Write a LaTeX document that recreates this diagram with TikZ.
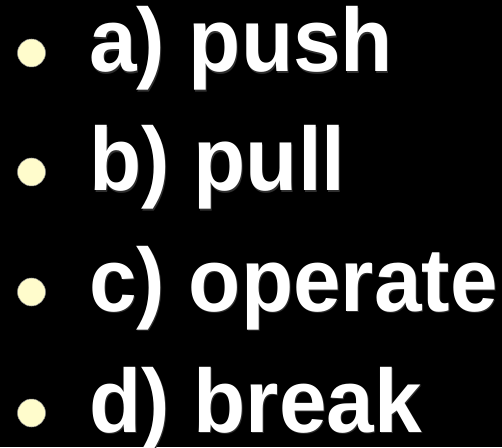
\documentclass[tikz,border=0pt]{standalone}
\usepackage{fontspec}
\setmainfont{Liberation Sans}
\begin{document}
\begin{tikzpicture}[x=1pt,y=1pt,
  itemtext/.style={anchor=base west,inner sep=0pt,font=\fontsize{90}{90}\selectfont\bfseries,text=white},
  bulletdot/.style={circle,fill=yellow!20!white,draw=black!45,line width=0.5pt,minimum size=28pt,inner sep=0pt,outer sep=0pt}]
\fill[black] (0,0) rectangle (502,447);
\useasboundingbox (0,0) rectangle (502,447);
\foreach \n/\t/\y in {a/{a) push}/375, b/{b) pull}/256, c/{c) operate}/136, d/{d) break}/15}{
  \node[itemtext,text=black!82!white] (s\n) at (90,\y-1.2) {\scalebox{0.95}[1]{\t}};
  \node[itemtext] (t\n) at (89,\y) {\scalebox{0.95}[1]{\t}};
  \node[bulletdot] (b\n) at (31.5,\y+19) {};
}
\end{tikzpicture}
\end{document}
